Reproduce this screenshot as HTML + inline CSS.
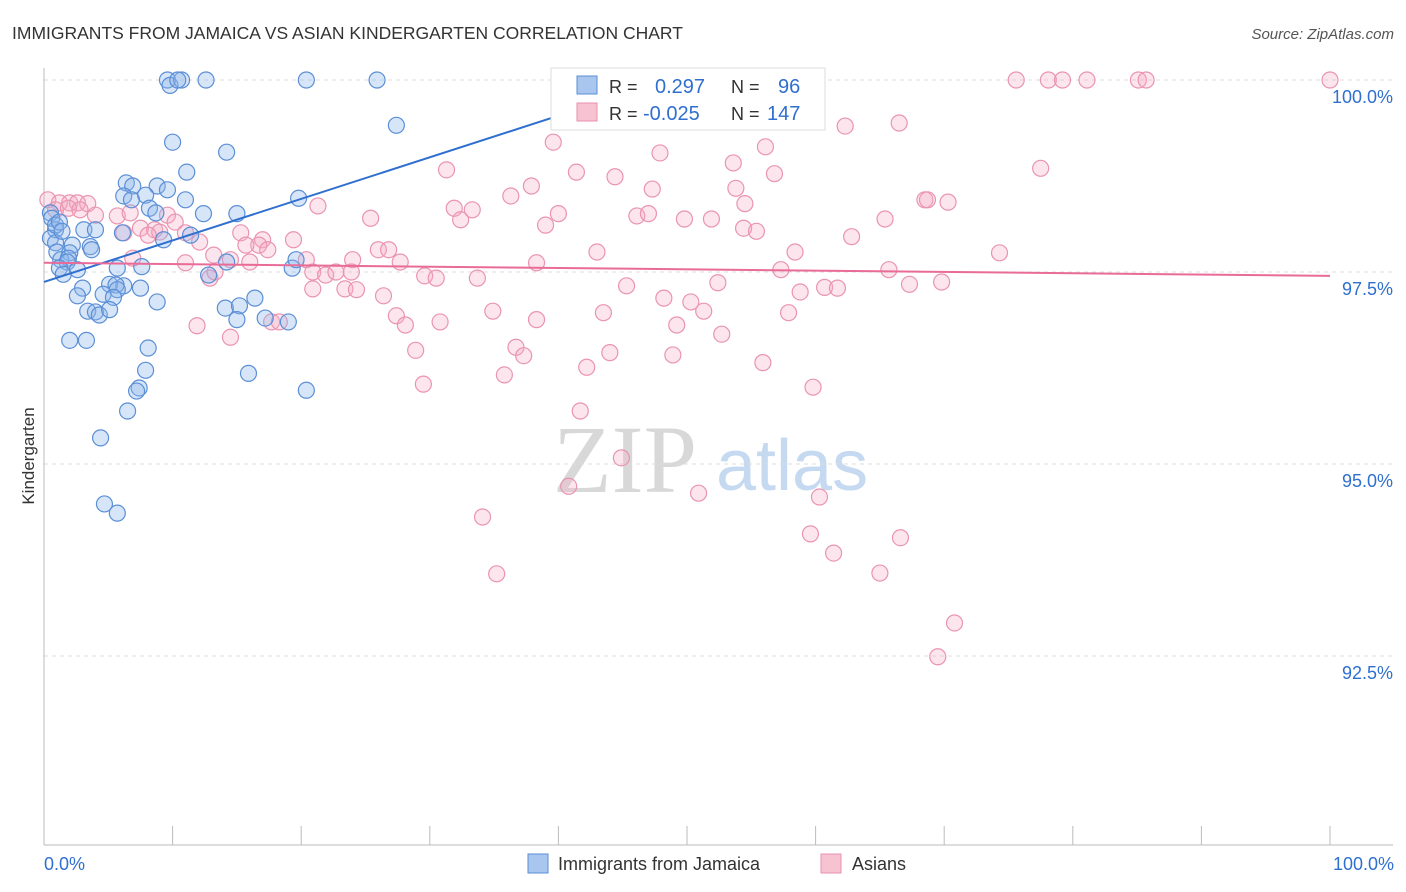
<!DOCTYPE html>
<html><head><meta charset="utf-8"><style>
body{margin:0;background:#fff;font-family:"Liberation Sans",sans-serif;}
svg{display:block}
</style></head><body>
<svg id="chart" width="1406" height="892" viewBox="0 0 1406 892" xmlns="http://www.w3.org/2000/svg">
<text x="12" y="39" font-size="17.5" fill="#333">IMMIGRANTS FROM JAMAICA VS ASIAN KINDERGARTEN CORRELATION CHART</text>
<text x="1394" y="39" font-size="15" fill="#555" font-style="italic" text-anchor="end">Source: ZipAtlas.com</text>
<g>
<text x="553" y="492" font-size="96" fill="#d8d8d8" font-family="Liberation Serif,serif">ZIP</text>
<text x="716" y="490" font-size="72" fill="#c5d9f0">atlas</text>
</g>
<g id="grid"></g>
<g id="axes"></g>
<g id="pts"></g>
<g id="lines"></g>
<g>
<rect x="551" y="68" width="274" height="62" fill="#fff" stroke="#ddd"/>
<rect x="577" y="76" width="20" height="18" fill="#a9c6ee" stroke="#5b8fd6"/>
<rect x="577" y="103" width="20" height="18" fill="#f7c3d3" stroke="#e890ac"/>
<text x="609" y="93" font-size="18" fill="#333">R =</text>
<text x="655" y="93" font-size="20" fill="#2f6fcf">0.297</text>
<text x="731" y="93" font-size="18" fill="#333">N =</text>
<text x="778" y="93" font-size="20" fill="#2f6fcf">96</text>
<text x="609" y="120" font-size="18" fill="#333">R =</text>
<text x="643" y="120" font-size="20" fill="#2f6fcf">-0.025</text>
<text x="731" y="120" font-size="18" fill="#333">N =</text>
<text x="767" y="120" font-size="20" fill="#2f6fcf">147</text>
</g>
<text x="34" y="456" font-size="17" fill="#333" transform="rotate(-90 34 456)" text-anchor="middle">Kindergarten</text>
<text x="44" y="870" font-size="18" fill="#2f6fcf">0.0%</text>
<text x="1394" y="870" font-size="18" fill="#2f6fcf" text-anchor="end">100.0%</text>
<g>
<rect x="528" y="854" width="20" height="19" fill="#a9c6ee" stroke="#5b8fd6"/>
<text x="558" y="870" font-size="18" fill="#333">Immigrants from Jamaica</text>
<rect x="821" y="854" width="20" height="19" fill="#f7c3d3" stroke="#e890ac"/>
<text x="852" y="870" font-size="18" fill="#333">Asians</text>
</g>
</svg>
<script>
const yTicks=[100,97.5,95,92.5];
const yTickLabels=["100.0%","97.5%","95.0%","92.5%"];
const xTickVals=[0,10,20,30,40,50,60,70,80,90,100];
const jamaicaX=[9.6,9.8,10.7,10.4,12.6,20.4,25.9,27.4,10.0,14.2,11.1,6.4,6.9,8.8,9.6,7.9,6.2,11.0,6.8,19.8,8.2,8.7,12.4,15.0,0.5,0.6,0.9,3.1,4.0,6.1,11.4,9.3,0.5,0.9,2.2,3.6,1.0,2.0,3.7,1.3,1.9,1.8,5.7,7.6,1.2,1.5,2.6,14.2,19.3,19.6,12.8,3.0,5.1,6.2,5.6,5.7,7.5,2.6,4.6,5.4,8.8,3.4,4.0,4.3,5.1,14.1,15.2,16.4,15.0,17.2,19.0,2.0,3.3,8.1,7.9,15.9,7.4,7.2,20.4,6.5,4.4,4.7,5.7,0.9,1.2,1.4];
const jamaicaY=[100,99.93,100,100,100,100,100,99.41,99.19,99.06,98.80,98.66,98.62,98.62,98.57,98.50,98.49,98.44,98.44,98.46,98.33,98.27,98.26,98.26,98.27,98.20,98.05,98.05,98.05,98.01,97.98,97.92,97.94,97.88,97.85,97.83,97.76,97.75,97.79,97.66,97.68,97.63,97.55,97.57,97.55,97.47,97.53,97.63,97.55,97.66,97.46,97.29,97.34,97.32,97.33,97.27,97.29,97.19,97.21,97.17,97.11,96.99,96.98,96.94,97.01,97.03,97.06,97.16,96.88,96.90,96.85,96.61,96.61,96.51,96.22,96.18,95.99,95.95,95.96,95.69,95.34,94.48,94.36,98.11,98.15,98.03];
const asiansX=[75.6,78.1,79.2,81.1,85.1,85.7,100,66.5,62.3,39.6,56.1,47.9,53.6,31.3,41.4,44.4,77.5,56.8,37.9,47.3,53.8,36.3,68.5,68.7,70.3,54.5,21.3,31.9,33.3,40.0,46.1,47.0,49.8,51.9,65.4,25.4,32.4,39.0,54.4,55.4,62.8,43.0,58.4,74.3,26.0,26.8,27.7,24.0,38.3,65.7,57.3,20.9,21.9,22.7,23.9,29.6,30.5,33.7,20.9,23.4,24.3,26.4,45.3,52.4,58.8,60.7,61.7,67.3,69.8,48.2,50.3,51.3,34.9,43.5,57.9,27.4,28.1,30.8,38.3,49.2,52.7,36.7,37.3,28.9,44.0,48.9,55.9,42.2,35.8,29.5,59.8,41.7,44.9,40.8,50.9,60.3,34.1,59.6,66.6,61.4,35.2,65.0,70.8,69.5,0.3,1.2,2.0,2.6,3.4,0.9,1.9,2.8,4.0,5.7,6.7,9.6,10.2,7.5,8.6,9.0,11.0,6.2,8.1,12.1,15.3,17.0,19.4,16.7,17.4,13.2,20.4,14.5,16.0,11.0,6.9,15.7,12.9,13.3,11.9,14.5,17.7,18.3];
const asiansY=[100,100,100,100,100,100,100,99.44,99.40,99.19,99.13,99.05,98.92,98.83,98.80,98.74,98.85,98.78,98.62,98.58,98.59,98.49,98.44,98.44,98.41,98.39,98.36,98.33,98.31,98.26,98.23,98.26,98.19,98.19,98.19,98.20,98.18,98.11,98.07,98.03,97.96,97.76,97.76,97.75,97.79,97.79,97.63,97.66,97.62,97.53,97.53,97.50,97.46,97.50,97.50,97.45,97.42,97.42,97.28,97.28,97.27,97.19,97.32,97.36,97.24,97.30,97.29,97.34,97.37,97.16,97.11,96.99,96.99,96.97,96.97,96.93,96.81,96.85,96.88,96.81,96.69,96.52,96.41,96.48,96.45,96.42,96.32,96.26,96.16,96.04,96.00,95.69,95.08,94.71,94.62,94.57,94.31,94.09,94.04,93.84,93.57,93.58,92.93,92.49,98.44,98.40,98.40,98.40,98.39,98.31,98.33,98.31,98.24,98.23,98.27,98.24,98.15,98.07,98.05,98.02,98.01,98.01,97.98,97.89,98.01,97.92,97.92,97.85,97.79,97.72,97.66,97.66,97.63,97.62,97.68,97.85,97.42,97.50,96.80,96.65,96.85,96.85];
const jamaicaTrend=[[0,97.37],[51,100.13]];
const asiansTrend=[[0,97.62],[100,97.45]];

const NS="http://www.w3.org/2000/svg";
const X0=44,X1=1330,Y0=80,PXPER=76.8;
function sx(v){return X0+(X1-X0)*v/100;}
function sy(v){return Y0+(100-v)*PXPER;}
function mk(tag,attrs,parent){const e=document.createElementNS(NS,tag);for(const k in attrs)e.setAttribute(k,attrs[k]);parent.appendChild(e);return e;}
const grid=document.getElementById('grid'),axes=document.getElementById('axes'),pts=document.getElementById('pts'),lines=document.getElementById('lines');
yTicks.forEach((t,i)=>{
  const l=mk('line',{x1:X0,x2:1393,y1:sy(t),y2:sy(t),stroke:'#ddd','stroke-dasharray':'4,4'},grid);
  
  
  const tx=mk('text',{x:1393,y:sy(t)+23,'font-size':18,fill:'#2f6fcf','text-anchor':'end'},grid);
  tx.textContent=yTickLabels[i];
  
  
});
const ax=mk('line',{x1:X0,x2:X0,y1:68,y2:845,stroke:'#bbb'},axes);


const bx=mk('line',{x1:X0,x2:1393,y1:845,y2:845,stroke:'#bbb'},axes);


xTickVals.forEach(v=>{
  const t=mk('line',{x1:sx(v),x2:sx(v),y1:826,y2:845,stroke:'#bbb'},axes);
  
  
});
asiansX.forEach((x,i)=>{
  const c=mk('circle',{cx:sx(x),cy:sy(asiansY[i]),r:8,fill:'rgba(244,170,195,0.3)',stroke:'#ea94b0','stroke-width':1.2},pts);
  
  
});
jamaicaX.forEach((x,i)=>{
  const c=mk('circle',{cx:sx(x),cy:sy(jamaicaY[i]),r:8,fill:'rgba(140,180,235,0.35)',stroke:'#5b8fd6','stroke-width':1.2},pts);
  
  
});
const tl1=mk('line',{x1:sx(jamaicaTrend[0][0]),y1:sy(jamaicaTrend[0][1]),x2:sx(jamaicaTrend[1][0]),y2:sy(jamaicaTrend[1][1]),stroke:'#2f6fcf','stroke-width':2},lines);


const tl2=mk('line',{x1:sx(asiansTrend[0][0]),y1:sy(asiansTrend[0][1]),x2:sx(asiansTrend[1][0]),y2:sy(asiansTrend[1][1]),stroke:'#e86b98','stroke-width':2},lines);


</script>
</body></html>
